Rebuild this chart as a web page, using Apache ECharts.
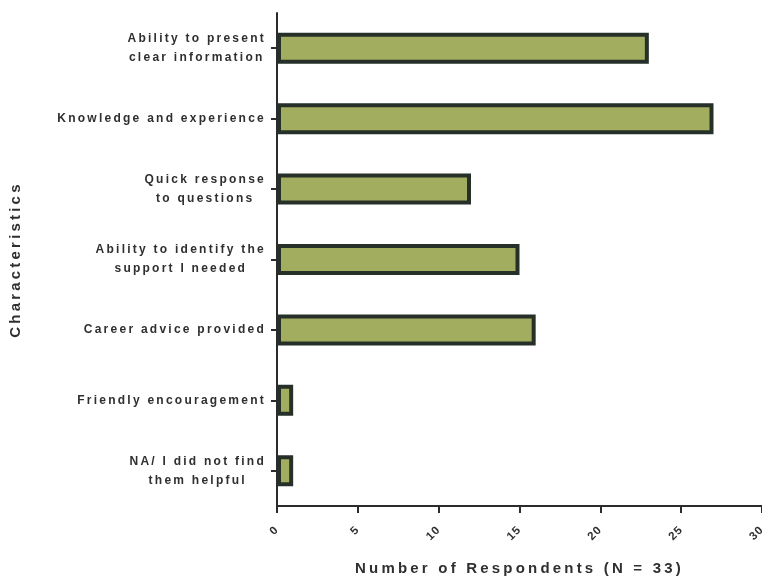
<!DOCTYPE html>
<html><head><meta charset="utf-8">
<script src="https://cdn.jsdelivr.net/npm/echarts@6/dist/echarts.min.js"></script>
<style>html,body{margin:0;padding:0;background:#fff}#c{width:762px;height:576px}</style>
</head><body><div id="c"></div>
<script>
// ---- data ----
const categories = [
  'Ability to present\nclear information',
  'Knowledge and experience',
  'Quick response\nto questions',
  'Ability to identify the\nsupport I needed',
  'Career advice provided',
  'Friendly encouragement',
  'NA/ I did not find\nthem helpful'
];
const respondents = [23, 27, 12, 15, 16, 1, 1];
const xMin = 0, xMax = 30, xInterval = 5;
const xAxisTitle = 'Number of Respondents (N = 33)';
const yAxisTitle = 'Characteristics';

// ---- letter spacing emulation (canvas) ----
function spacingFor(font) {
  const m = /(\d+(?:\.\d+)?)px/.exec(font || '');
  const s = m ? parseFloat(m[1]) : 12;
  return s >= 14 ? 3.2 : (s >= 12 ? 2.25 : 1);
}
const P = CanvasRenderingContext2D.prototype;
if ('letterSpacing' in P) {
  const oFill = P.fillText, oMeasure = P.measureText;
  P.fillText = function (t, x, y, w) {
    this.letterSpacing = spacingFor(this.font) + 'px';
    return w === undefined ? oFill.call(this, t, x, y) : oFill.call(this, t, x, y, w);
  };
  P.measureText = function (t) {
    this.letterSpacing = spacingFor(this.font) + 'px';
    return oMeasure.call(this, t);
  };
}

const FONT = '"Liberation Sans", Arial, sans-serif';
const TXT = '#2f2f2f';
const AX = '#2b2b2b';

const chart = echarts.init(document.getElementById('c'), null, { renderer: 'canvas' });
chart.setOption({
  animation: false,
  backgroundColor: '#ffffff',
  grid: { left: 277, right: 0, top: 13, bottom: 70, outerBoundsMode: 'none', containLabel: false },
  xAxis: {
    type: 'value', min: xMin, max: xMax, interval: xInterval,
    axisLine: { show: true, lineStyle: { color: AX, width: 2 } },
    axisTick: { show: true, length: 7, lineStyle: { color: AX, width: 2 } },
    splitLine: { show: false },
    axisLabel: { rotate: 45, margin: 22, fontSize: 11.5, fontWeight: 'bold', color: TXT, fontFamily: FONT },
    name: xAxisTitle, nameLocation: 'middle', nameGap: 54,
    nameTextStyle: { fontSize: 15, fontWeight: 'bold', color: TXT, fontFamily: FONT }
  },
  yAxis: {
    type: 'category', inverse: true, data: categories,
    axisLine: { show: true, lineStyle: { color: AX, width: 2 } },
    axisTick: { show: true, alignWithLabel: true, length: 6, lineStyle: { color: AX, width: 2 } },
    axisLabel: {
      interval: 0, margin: 11, align: 'right',
      formatter: v => v.split('\n').map(l => '{a|' + l + '}').join('\n'),
      rich: { a: { align: 'center', fontSize: 12, fontWeight: 'bold', lineHeight: 19, color: TXT, fontFamily: FONT } }
    },
    name: yAxisTitle, nameLocation: 'middle', nameGap: 252, nameRotate: 90,
    nameTextStyle: { fontSize: 15, fontWeight: 'bold', color: TXT, fontFamily: FONT }
  },
  series: [{
    type: 'bar', data: respondents, barWidth: 31,
    itemStyle: { color: '#a3ad5f', borderColor: '#263029', borderWidth: 4 }
  }]
});
</script></body></html>
